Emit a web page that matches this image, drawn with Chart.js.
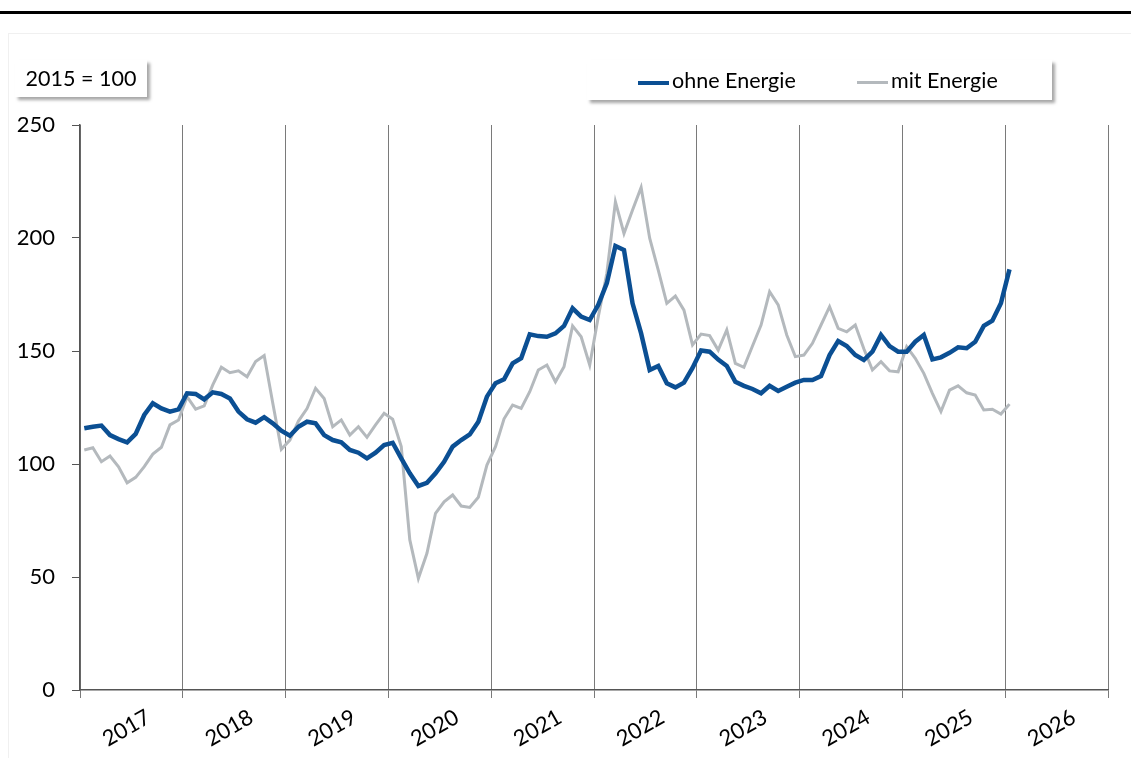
<!DOCTYPE html>
<html>
<head>
<meta charset="utf-8">
<script src="https://cdn.jsdelivr.net/npm/chart.js@4"></script>
<style>
    body { margin: 0; background: #fff; font-family: Lato, sans-serif; }
    #wrap { position: relative; width: 1131px; height: 758px; overflow: hidden; }
    #topline { position: absolute; left: 0; top: 11px; width: 1131px; height: 3px; background: #000; }
    #panel { position: absolute; left: 8px; top: 33px; width: 1140px; height: 760px; border: 1px solid #f0f0f0; }
    .box { position: absolute; background: #fff; box-shadow: 3px 3px 3px rgba(0,0,0,0.35); color: #000; font-size: 21.5px; }
    #basis { left: 15px; top: 60px; width: 132px; height: 37px; line-height: 37px; text-align: center; }
    #legend { left: 587px; top: 60px; width: 465px; height: 40px; }
    .item { position: absolute; top: 0; line-height: 40px; white-space: nowrap; }
    .swatch { display: inline-block; width: 31px; vertical-align: middle; margin-right: 3px; }
    canvas { position: absolute; left: 0; top: 0; }
</style>
</head>
<body>
<div id="wrap">
    <div id="topline"></div>
    <div id="panel"></div>
    <canvas id="chart" width="1131" height="758"></canvas>
    <div class="box" id="basis">2015 = 100</div>
    <div class="box" id="legend"></div>
</div>
<script>
// Jahre auf der x-Achse (monatliche Werte ab Januar 2017)
const years = [2017, 2018, 2019, 2020, 2021, 2022, 2023, 2024, 2025, 2026];

// Index 2015 = 100, ohne Energie
const ohneEnergie = [
    115.8, 116.5, 117.0, 112.8, 111.0, 109.6, 113.3, 121.7, 126.9, 124.6, 123.2, 124.2,
    131.3, 131.0, 128.6, 131.7, 131.0, 129.0, 123.2, 119.8, 118.3, 120.7, 118.0, 114.7,
    112.5, 116.5, 118.7, 118.0, 112.8, 110.6, 109.6, 106.2, 105.0, 102.5, 105.0, 108.4,
    109.4, 102.5, 95.9, 90.3, 91.7, 95.9, 101.0, 107.7, 110.6, 113.1, 118.7, 129.8,
    135.7, 137.5, 144.5, 146.8, 157.4, 156.6, 156.3, 157.8, 161.1, 168.9, 165.2, 163.7,
    170.4, 180.0, 196.5, 194.7, 171.1, 157.8, 141.6, 143.4, 135.7, 133.9, 136.0, 142.5,
    150.2, 149.7, 146.2, 143.4, 136.4, 134.6, 133.2, 131.3, 134.6, 132.3, 134.2, 136.0,
    137.2, 137.2, 138.9, 148.2, 154.4, 152.2, 148.2, 146.0, 149.7, 157.1, 152.2, 149.7,
    149.7, 154.1, 157.1, 146.3, 147.2, 149.2, 151.6, 151.2, 154.1, 161.1, 163.4, 171.1,
    186.1
];

// Index 2015 = 100, mit Energie
const mitEnergie = [
    106.2, 107.2, 101.0, 103.5, 98.8, 91.7, 94.1, 98.8, 104.4, 107.4, 117.3, 119.5,
    129.8, 124.3, 125.7, 135.0, 142.8, 140.4, 141.2, 138.6, 145.3, 148.0, 127.0, 106.5,
    110.6, 119.0, 124.5, 133.5, 129.0, 116.5, 119.5, 112.8, 116.5, 111.8, 117.3, 122.4,
    119.8, 107.7, 66.4, 49.4, 60.5, 78.2, 83.3, 86.3, 81.4, 80.8, 85.3, 99.5,
    107.7, 120.0, 126.1, 124.6, 132.0, 141.6, 143.8, 136.4, 143.0, 161.1, 156.3, 143.8,
    165.2, 184.4, 216.0, 202.0, 212.4, 222.4, 199.9, 185.8, 171.1, 174.3, 168.1, 152.7,
    157.5, 156.8, 150.4, 159.3, 144.5, 142.8, 152.2, 161.5, 176.2, 170.4, 157.1, 147.5,
    148.2, 153.4, 161.5, 169.6, 160.0, 158.5, 161.5, 151.0, 141.6, 145.3, 141.2, 140.8,
    151.9, 146.8, 140.1, 131.3, 123.2, 132.7, 134.6, 131.5, 130.5, 123.9, 124.2, 122.1,
    126.5
];

const seriesNames = ['ohne Energie', 'mit Energie'];
const seriesColors = ['#0b4f93', '#b4b9bd'];

const yTicks = [0, 50, 100, 150, 200, 250];

// Monate als x-Positionen: Monat i liegt in der Mitte seines Intervalls
function toPoints(values) {
    return values.map((v, i) => ({ x: i + 0.5, y: v }));
}

const fontSpec = { family: 'Lato, sans-serif', size: 22 };

new Chart(document.getElementById('chart').getContext('2d'), {
    type: 'line',
    data: {
        datasets: [
            {
                label: seriesNames[0],
                data: toPoints(ohneEnergie),
                borderColor: seriesColors[0],
                borderWidth: 4.5,
                pointRadius: 0,
                tension: 0
            },
            {
                label: seriesNames[1],
                data: toPoints(mitEnergie),
                borderColor: seriesColors[1],
                borderWidth: 3,
                pointRadius: 0,
                tension: 0
            }
        ]
    },
    options: {
        responsive: false,
        animation: false,
        layout: { padding: { left: 0, right: 23, top: 125, bottom: 0 } },
        plugins: {
            legend: { display: false },
            tooltip: { enabled: false }
        },
        scales: {
            x: {
                type: 'linear',
                min: 0,
                max: years.length * 12,
                afterBuildTicks: (scale) => {
                    const ticks = [];
                    for (let k = 0; k <= years.length; k++) {
                        ticks.push({ value: k * 12 });
                        if (k < years.length) ticks.push({ value: k * 12 + 8 });
                    }
                    scale.ticks = ticks;
                },
                afterFit: (scale) => { scale.height = 68; },
                ticks: {
                    autoSkip: false,
                    minRotation: 30,
                    maxRotation: 30,
                    padding: 6,
                    color: '#000',
                    font: fontSpec,
                    callback: (value) => {
                        if (value % 12 === 0) return '';
                        return String(years[Math.floor(value / 12)]);
                    }
                },
                grid: {
                    color: (ctx) => (ctx.tick && ctx.tick.value % 12 === 0) ? '#7a7a7a' : 'rgba(0,0,0,0)',
                    lineWidth: 1,
                    drawTicks: true,
                    tickLength: 8
                },
                border: { display: true, color: '#555', width: 1.5 }
            },
            y: {
                min: 0,
                max: 250,
                afterBuildTicks: (scale) => {
                    scale.ticks = yTicks.map(v => ({ value: v }));
                },
                afterFit: (scale) => { scale.width = 80; },
                ticks: {
                    color: '#000',
                    font: fontSpec,
                    padding: 17
                },
                grid: {
                    drawOnChartArea: false,
                    drawTicks: true,
                    tickLength: 8,
                    color: '#555'
                },
                border: { display: true, color: '#555', width: 1.5 }
            }
        }
    }
});

// Legende als eigener Kasten
const legend = document.getElementById('legend');
const legendX = [51, 270];
seriesNames.forEach((name, i) => {
    const item = document.createElement('div');
    item.className = 'item';
    item.style.left = legendX[i] + 'px';
    const sw = document.createElement('span');
    sw.className = 'swatch';
    sw.style.borderTop = (i === 0 ? 4 : 3) + 'px solid ' + seriesColors[i];
    item.appendChild(sw);
    item.appendChild(document.createTextNode(name));
    legend.appendChild(item);
});
</script>
</body>
</html>
